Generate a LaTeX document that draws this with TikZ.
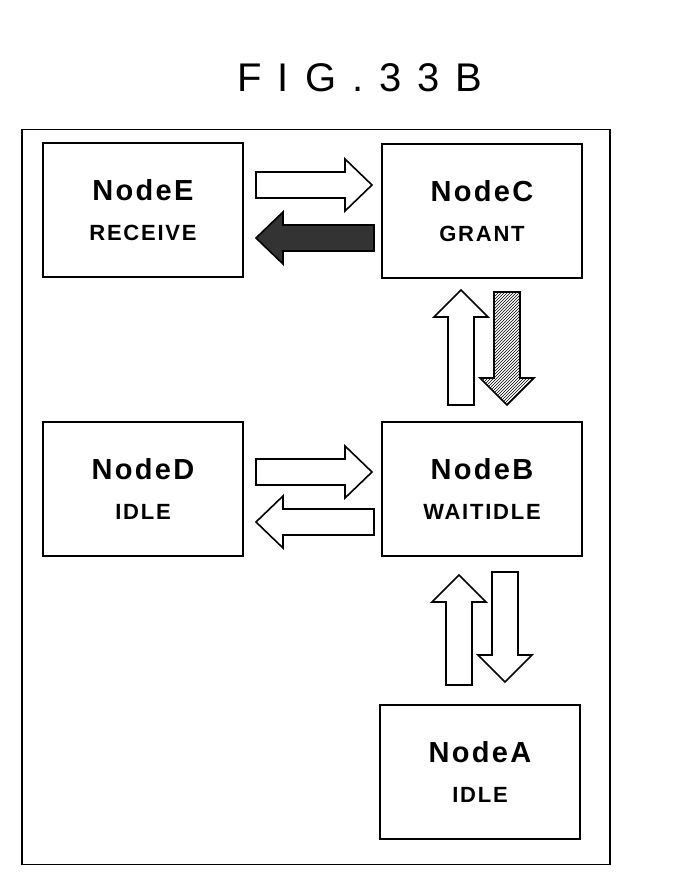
\documentclass[tikz,border=0pt]{standalone}
\usepackage{fontspec}
\setmainfont{Liberation Sans}
\usetikzlibrary{patterns}
\newcommand{\rarr}[4]{\draw[#4] (#1,{#3-13}) -- ({#2-27},{#3-13}) -- ({#2-27},{#3-26}) -- (#2,#3) -- ({#2-27},{#3+26}) -- ({#2-27},{#3+13}) -- (#1,{#3+13}) -- cycle;}
\newcommand{\larr}[4]{\draw[#4] (#2,{#3-13}) -- ({#1+27},{#3-13}) -- ({#1+27},{#3-26}) -- (#1,#3) -- ({#1+27},{#3+26}) -- ({#1+27},{#3+13}) -- (#2,{#3+13}) -- cycle;}
\newcommand{\uarr}[4]{\draw[#4] ({#3-13},#2) -- ({#3-13},{#1+27}) -- ({#3-27},{#1+27}) -- (#3,#1) -- ({#3+27},{#1+27}) -- ({#3+13},{#1+27}) -- ({#3+13},#2) -- cycle;}
\newcommand{\darr}[4]{\draw[#4] ({#3-13},#1) -- ({#3-13},{#2-27}) -- ({#3-27},{#2-27}) -- (#3,#2) -- ({#3+27},{#2-27}) -- ({#3+13},{#2-27}) -- ({#3+13},#1) -- cycle;}
\newcommand{\boxtxt}[2]{{\fontsize{29}{34}\selectfont\bfseries\addfontfeatures{LetterSpace=8}#1}\\[24pt]{\fontsize{22}{28}\selectfont\bfseries\addfontfeatures{LetterSpace=8}#2}}
\begin{document}
\begin{tikzpicture}[x=1pt,y=-1pt,
  box/.style={draw,line width=1.6pt,minimum width=200pt,minimum height=134pt,align=center,inner sep=0pt},
  arw/.style={draw,line width=1.6pt,fill=white,line join=miter}]
\useasboundingbox (0,0) rectangle (672,896);
\node[font=\fontsize{40}{44}\selectfont\addfontfeatures{LetterSpace=40}] (title) at (360,78) {FIG.33B};
\node[draw,line width=1.6pt,minimum width=588pt,minimum height=735pt,inner sep=0pt] (frame) at (316,497) {};
\node[box] (E) at (143,210) {\boxtxt{NodeE}{RECEIVE}};
\node[box] (C) at (482,211) {\boxtxt{NodeC}{GRANT}};
\node[box] (D) at (143,489) {\boxtxt{NodeD}{IDLE}};
\node[box] (B) at (482,489) {\boxtxt{NodeB}{WAITIDLE}};
\node[box] (A) at (480,772) {\boxtxt{NodeA}{IDLE}};
\rarr{256}{372}{185}{arw}
\larr{256}{374}{238}{arw,fill=black!80}
\rarr{256}{372}{472}{arw}
\larr{256}{374}{522}{arw}
\uarr{290}{405}{461}{arw}
\darr{292}{405}{507}{arw,fill=white,postaction={pattern=north east lines}}
\uarr{575}{685}{459}{arw}
\darr{572}{682}{505}{arw}
\end{tikzpicture}
\end{document}
